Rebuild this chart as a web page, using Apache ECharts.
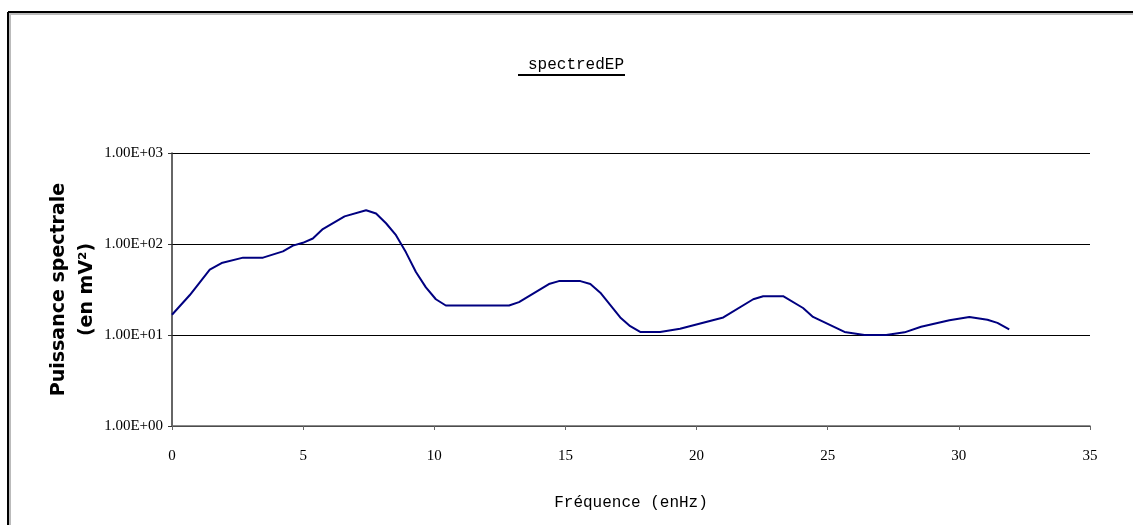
<!DOCTYPE html>
<html>
<head>
<meta charset="utf-8">
<script src="https://cdn.jsdelivr.net/npm/echarts@6/dist/echarts.min.js"></script>
<style>
html, body { margin: 0; padding: 0; background: #fff; }
#main { width: 1133px; height: 525px; }
</style>
</head>
<body>
<div id="main"></div>
<script>
var chart = echarts.init(document.getElementById('main'));

// frequence (Hz) et puissance spectrale
var freqs = [0, 0.68, 1.44, 1.89, 2.71, 3.47, 4.23, 4.61, 4.99, 5.37, 5.75, 6.58, 7.40, 7.78,
	8.16, 8.54, 8.92, 9.30, 9.68, 10.06, 10.44, 12.85, 13.23, 14.37, 14.75, 15.57, 15.95,
	16.33, 17.09, 17.47, 17.85, 18.61, 19.37, 21.02, 22.16, 22.54, 23.30, 24.06, 24.44,
	25.64, 26.40, 27.23, 27.93, 28.56, 29.64, 30.40, 31.09, 31.47, 31.92];
var power = [16.7, 27.5, 52.4, 61.8, 70.8, 70.8, 82.9, 96, 103, 115, 146, 201, 235, 216,
	169, 125, 81, 49.3, 33.4, 24.7, 21.1, 21.1, 23, 36.3, 39.1, 39.1, 36.3,
	29.2, 15.6, 12.5, 10.8, 10.8, 11.7, 15.6, 24.7, 26.7, 26.7, 19.8, 15.8,
	10.8, 10, 10, 10.7, 12.3, 14.5, 15.8, 14.7, 13.6, 11.5];
var xTicks = [0, 5, 10, 15, 20, 25, 30, 35];
var yTicks = ['1.00E+00', '1.00E+01', '1.00E+02', '1.00E+03'];

var points = freqs.map(function (f, i) { return [f, power[i]]; });
var serif = '"Liberation Serif", "DejaVu Serif", serif';
var mono = '"Liberation Mono", "DejaVu Sans Mono", monospace';

var option = {
	animation: false,
	backgroundColor: '#fff',
	title: {
		text: 'spectredEP',
		left: 571,
		top: 52,
		textAlign: 'center',
		textStyle: {
			fontFamily: mono,
			fontSize: 16,
			fontWeight: 'normal',
			color: '#000'
		}
	},
	grid: {
		left: 172,
		right: 43,
		top: 153,
		bottom: 99
	},
	xAxis: {
		type: 'value',
		min: 0,
		max: 35,
		interval: 5,
		name: 'Fréquence (enHz)',
		nameLocation: 'middle',
		nameGap: 69,
		nameMoveOverlap: false,
		nameTextStyle: { fontFamily: mono, fontSize: 16, color: '#000' },
		axisLine: { lineStyle: { color: '#666', width: 1.5 } },
		axisTick: { show: true, length: 4, lineStyle: { color: '#666' } },
		axisLabel: {
			margin: 23,
			fontFamily: serif,
			fontSize: 15,
			color: '#000',
			formatter: function (v) { return xTicks.indexOf(v) >= 0 ? String(v) : ''; }
		},
		splitLine: { show: false }
	},
	yAxis: {
		type: 'log',
		logBase: 10,
		min: 1,
		max: 1000,
		name: 'Puissance spectrale\n(en mV²)',
		nameLocation: 'middle',
		nameGap: 71,
		nameMoveOverlap: false,
		nameRotate: 90,
		nameTextStyle: {
			fontFamily: '"DejaVu Sans", sans-serif',
			fontSize: 19,
			fontWeight: 'bold',
			color: '#000',
			lineHeight: 28
		},
		axisLine: { show: true, lineStyle: { color: '#333', width: 1.5 } },
		axisTick: { show: true, length: 4, lineStyle: { color: '#333' } },
		axisLabel: {
			margin: 9,
			fontFamily: serif,
			fontSize: 15,
			color: '#000',
			formatter: function (v) {
				var e = Math.round(Math.log10(v));
				return yTicks[e];
			}
		},
		splitLine: { show: true, lineStyle: { color: '#000', width: 1 } }
	},
	series: [{
		type: 'line',
		data: points,
		showSymbol: false,
		lineStyle: { color: '#000080', width: 2 },
		itemStyle: { color: '#000080' }
	}],
	graphic: [
		// soulignement du titre
		{ type: 'line', shape: { x1: 518, y1: 75, x2: 625, y2: 75 }, style: { stroke: '#000', lineWidth: 2 } },
		// cadre
		{ type: 'line', shape: { x1: 8, y1: 12, x2: 1133, y2: 12 }, style: { stroke: '#000', lineWidth: 2 } },
		{ type: 'line', shape: { x1: 8, y1: 12, x2: 8, y2: 525 }, style: { stroke: '#000', lineWidth: 2 } },
		{ type: 'line', shape: { x1: 9, y1: 14, x2: 1133, y2: 14 }, style: { stroke: '#bbb', lineWidth: 2 } },
		{ type: 'line', shape: { x1: 10, y1: 14, x2: 10, y2: 525 }, style: { stroke: '#bbb', lineWidth: 2 } }
	]
};

chart.setOption(option);
</script>
</body>
</html>
